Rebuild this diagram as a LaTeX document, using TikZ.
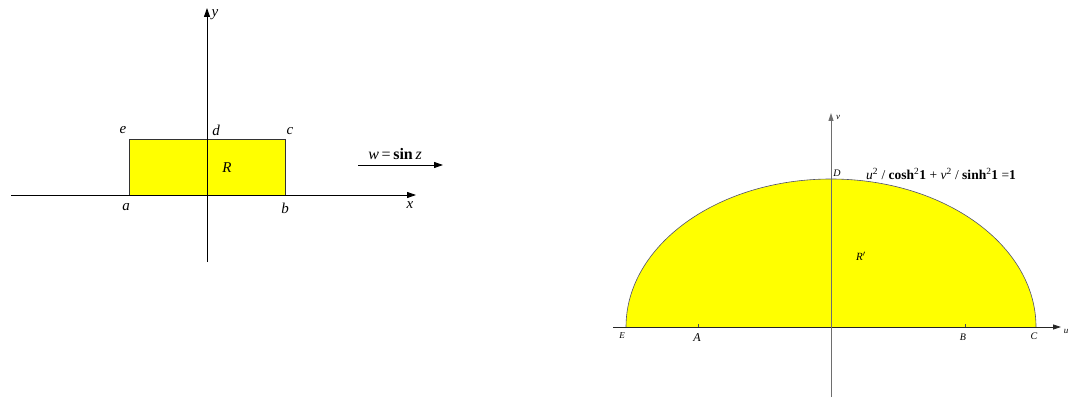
\documentclass[tikz,border=0pt]{standalone}
\usepackage{fontspec}
\setmainfont{Liberation Serif}
\usetikzlibrary{arrows.meta}
\definecolor{fillyellow}{RGB}{255,255,0}
\definecolor{rimgray}{RGB}{80,80,110}
\definecolor{axisgray}{RGB}{110,110,110}
\tikzset{
  axis/.style={line width=0.9pt,black,-{Triangle[length=9pt,width=6pt]}},
  raxis/.style={line width=0.9pt,axisgray,-{Triangle[length=8pt,width=5pt]}},
  biglab/.style={font=\fontsize{15}{15}\selectfont\itshape,inner sep=0pt},
  smalllab/.style={font=\fontsize{9}{9}\selectfont\itshape,inner sep=0pt},
}
\begin{document}
\begin{tikzpicture}[x=1pt,y=-1pt]
\useasboundingbox (0,0) rectangle (1073,398);
% ---- left figure ----
\fill[fillyellow] (129,139) rectangle (285,195);
\draw[line width=0.7pt,black!80] (129,139) rectangle (285,195);
\coordinate (xl) at (11,195);
\coordinate (xr) at (416,195);
\coordinate (yb) at (207,262);
\coordinate (yt) at (207,8);
\draw[axis] (xl) -- (xr);
\draw[axis] (yb) -- (yt);
\node[biglab] (le) at (123,130) {e};
\node[biglab] (ld) at (216,130) {d};
\node[biglab] (lc) at (290,131) {c};
\node[biglab] (la) at (126,207) {a};
\node[biglab] (lb) at (285,208) {b};
\node[biglab] (lx) at (410,205) {x};
\node[biglab] (ly) at (215,15) {y};
\node[biglab] (lR) at (227,168) {R};
% mapping arrow
\coordinate (ma) at (358,165);
\coordinate (mb) at (443,165);
\draw[axis] (ma) -- (mb);
\node[inner sep=0pt,font=\fontsize{16}{16}\selectfont] (lw) at (395,154) {\textit{w}\,=\,\textbf{sin}\,\textit{z}};
% ---- right figure ----
\fill[fillyellow] (626,327) arc[start angle=180,end angle=0,x radius=205pt,y radius=148pt] -- cycle;
\draw[line width=0.6pt,rimgray] (626,327) arc[start angle=180,end angle=0,x radius=205pt,y radius=148pt];
\coordinate (ul) at (613,327);
\coordinate (ur) at (1061,327);
\coordinate (vb) at (831,397);
\coordinate (vt) at (831,113);
\draw[line width=0.8pt,black!85,-{Triangle[length=8pt,width=5pt]}] (ul) -- (ur);
\draw[raxis] (vb) -- (vt);
\draw[line width=0.5pt,black!70] (698,327) -- (698,324);
\draw[line width=0.5pt,black!70] (965,327) -- (965,324);
\node[smalllab] (lE) at (622,336) {E};
\node[smalllab] (lA) at (697,338) {\fontsize{12}{12}\selectfont A};
\node[smalllab] (lB) at (963,337) {\fontsize{10}{10}\selectfont B};
\node[smalllab] (lC) at (1034,336) {\fontsize{10}{10}\selectfont C};
\node[smalllab] (lu) at (1066,331) {u};
\node[smalllab] (lv) at (838,117) {v};
\node[smalllab] (lD) at (837,173) {\fontsize{10}{10}\selectfont D};
\node[smalllab] (lRp) at (861,256) {\fontsize{11}{11}\selectfont R$'$};
\node[inner sep=0pt,anchor=west,font=\fontsize{13.5}{13.5}\selectfont] (leq) at (866,174)
  {\textit{u}\textsuperscript{2} / \textbf{cosh}\textsuperscript{2}\textbf{1} + \textit{v}\textsuperscript{2} / \textbf{sinh}\textsuperscript{2}\textbf{1} =\textbf{1}};
\end{tikzpicture}
\end{document}
